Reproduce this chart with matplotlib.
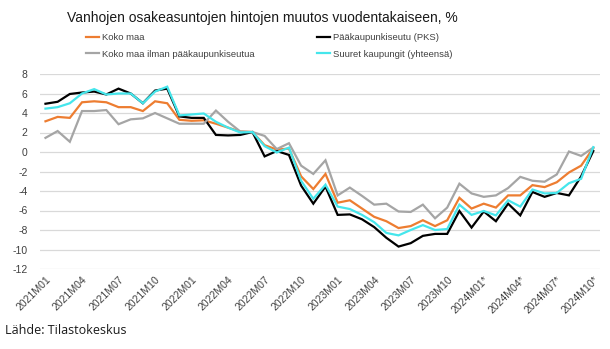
import matplotlib
matplotlib.use("Agg")
import matplotlib.pyplot as plt
from matplotlib.lines import Line2D

months = [f"{y}M{m:02d}" for y in (2021, 2022, 2023) for m in range(1, 13)] + \
         [f"2024M{m:02d}*" for m in range(1, 11)]

koko_maa = [3.15, 3.6, 3.5, 5.1, 5.2, 5.1, 4.6, 4.6, 4.2, 5.2, 5.0, 3.3,
            3.2, 3.25, 2.9, 2.5, 2.1, 2.05, 0.7, 0.25, 0.35, -2.5, -3.8, -2.25,
            -5.2, -4.95, -5.8, -6.65, -7.1, -7.8, -7.6, -7.0, -7.6, -7.0, -4.7, -5.8,
            -5.3, -5.7, -4.45, -4.45, -3.4, -3.6, -3.1, -2.1, -1.4, 0.4]
pks = [4.95, 5.15, 5.95, 6.1, 6.2, 5.9, 6.5, 6.0, 5.0, 6.3, 6.5, 3.65,
       3.5, 3.5, 1.75, 1.7, 1.75, 2.05, -0.45, 0.1, -0.3, -3.45, -5.3, -3.55,
       -6.45, -6.4, -6.9, -7.7, -8.8, -9.7, -9.35, -8.6, -8.4, -8.4, -6.05, -7.75,
       -6.1, -7.1, -5.3, -6.5, -4.1, -4.6, -4.2, -4.45, -2.5, 0.1]
ilman_pks = [1.45, 2.15, 1.05, 4.2, 4.2, 4.3, 2.85, 3.35, 3.45, 4.0, 3.45, 2.9,
             2.9, 2.9, 4.25, 3.1, 2.1, 2.05, 1.65, 0.3, 0.9, -1.4, -2.25, -0.85,
             -4.45, -3.65, -4.5, -5.4, -5.3, -6.1, -6.15, -5.4, -6.8, -5.7, -3.25, -4.25,
             -4.6, -4.45, -3.7, -2.55, -2.95, -3.05, -2.3, 0.05, -0.4, 0.45]
suuret = [4.45, 4.6, 5.0, 6.0, 6.45, 5.9, 6.0, 6.0, 5.0, 6.2, 6.7, 3.75,
          3.85, 3.95, 3.1, 2.5, 2.0, 2.05, 0.6, -0.05, 0.45, -2.95, -4.8, -3.35,
          -5.6, -5.85, -6.45, -7.2, -8.3, -8.55, -8.0, -7.5, -8.0, -7.9, -5.4, -6.45,
          -6.05, -6.5, -4.95, -5.6, -3.85, -4.25, -4.2, -3.2, -2.75, 0.5]

names = ["Koko maa", "Pääkaupunkiseutu (PKS)",
         "Koko maa ilman pääkaupunkiseutua", "Suuret kaupungit (yhteensä)"]
colors = ["#ED7D31", "#000000", "#A5A5A5", "#45E6EC"]
yticks = list(range(-12, 9, 2))

plt.rcParams["font.family"] = ["Liberation Sans", "DejaVu Sans"]

fig = plt.figure(figsize=(6.10, 3.49), dpi=100)
ax = fig.add_axes([40 / 610, 1 - 269 / 349, 560 / 610, 195 / 349])

x = list(range(len(months)))
for vals, c in zip([koko_maa, pks, ilman_pks, suuret], colors):
    ax.plot(x, vals, color=c, lw=1.6, solid_joinstyle="miter")

ax.set_xlim(-0.45, len(months) - 0.45)
ax.set_ylim(-12, 8)
ax.set_yticks(yticks)
ax.set_yticklabels([str(v) for v in yticks], fontsize=7.5, color="#404040")
ax.set_xticks(x[::3])
ax.set_xticklabels(months[::3], rotation=45, ha="right", rotation_mode="anchor",
                   fontsize=7.5, color="#404040")
ax.tick_params(axis="y", length=0, pad=9)
ax.tick_params(axis="x", length=0, pad=4)
ax.grid(axis="y", color="#D9D9D9", lw=0.9)
ax.set_axisbelow(True)
for s in ax.spines.values():
    s.set_visible(False)

fig.text(0.43, 1 - 18 / 349, "Vanhojen osakeasuntojen hintojen muutos vuodentakaiseen, %",
         ha="center", va="center", fontsize=10, color="#1a1a1a")

handles = [Line2D([], [], color=c, lw=1.6) for c in colors]
order = [0, 2, 1, 3]
fig.legend([handles[i] for i in order], [names[i] for i in order],
           loc="upper left", bbox_to_anchor=(86 / 610, 1 - 33 / 349), ncol=2,
           frameon=False, fontsize=6.8, handlelength=1.4, handletextpad=0.3,
           columnspacing=6.6, labelspacing=0.8, borderpad=0, borderaxespad=0,
           labelcolor="#404040")

fig.text(5 / 610, 1 - 331 / 349, "Lähde: Tilastokeskus", ha="left", va="center",
         fontsize=9, color="#1a1a1a", family=["Open Sans", "DejaVu Sans"])

fig.savefig("out.png", dpi=100)
